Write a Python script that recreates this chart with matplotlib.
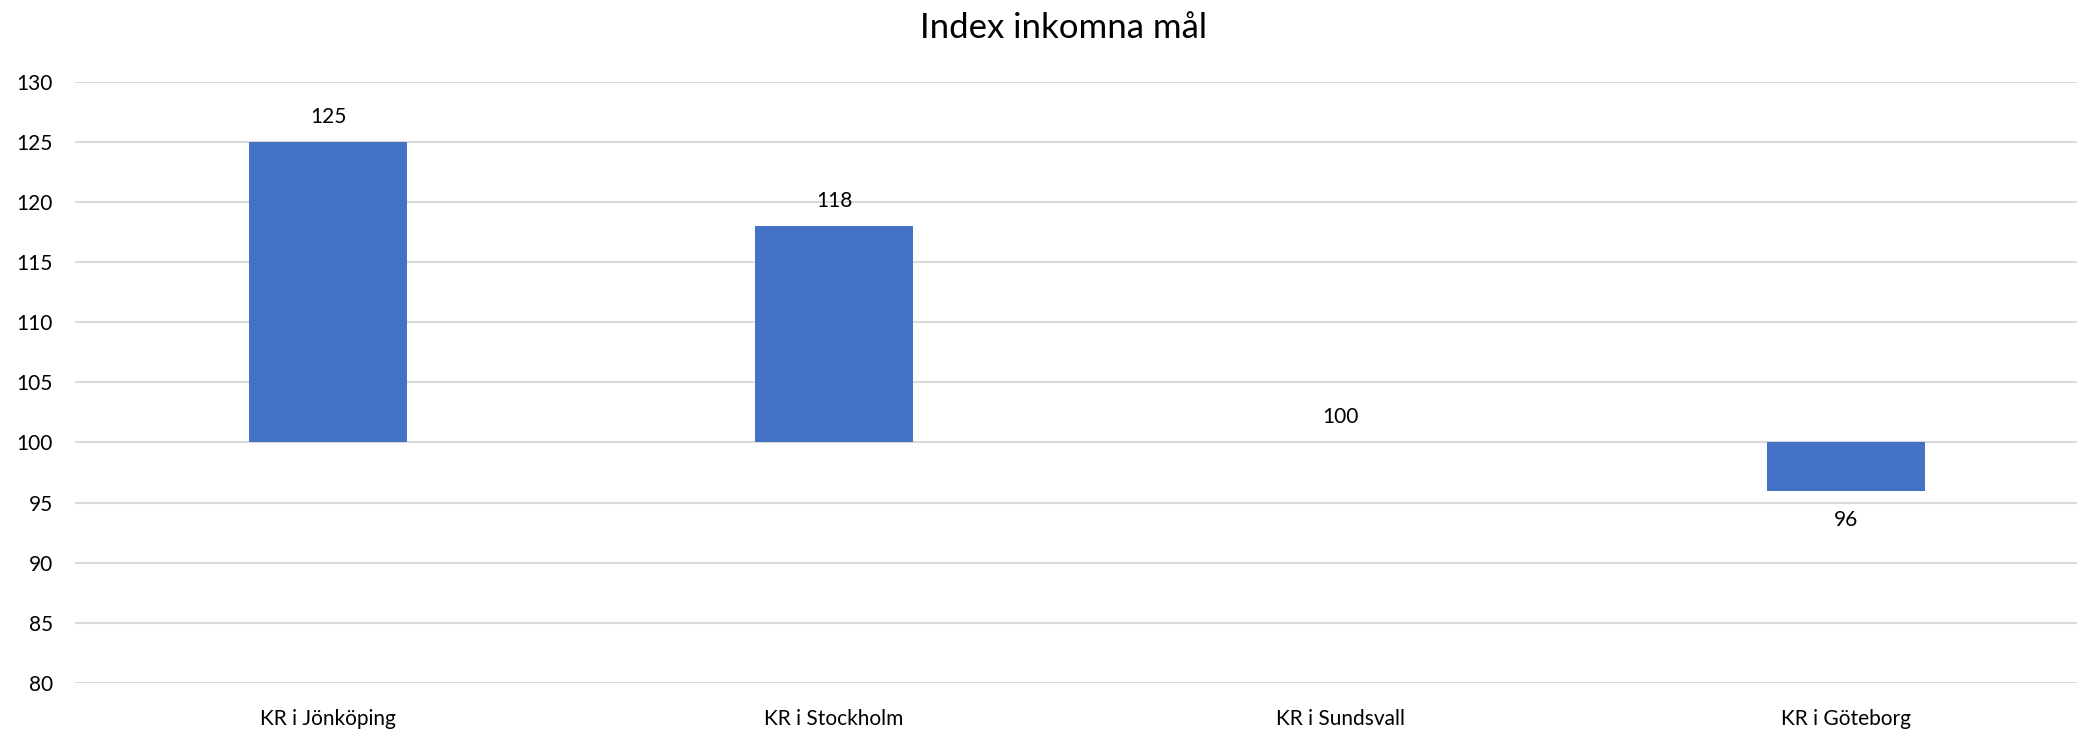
import matplotlib.pyplot as plt

# data
kategorier = ['KR i Jönköping', 'KR i Stockholm', 'KR i Sundsvall', 'KR i Göteborg']
index_varden = [125, 118, 100, 96]
bas = 100
y_ticks = [80, 85, 90, 95, 100, 105, 110, 115, 120, 125, 130]

plt.rcParams['font.family'] = ['Lato', 'DejaVu Sans']

W, H = 2077, 733
fig = plt.figure(figsize=(W / 100, H / 100), dpi=100)
# plot area: x 75..2099 px (cut at right edge), y 82..683 px from top
ax = fig.add_axes([75 / W, (H - 683) / H, 2024 / W, (683 - 81.7) / H])

x = list(range(len(kategorier)))
hojd = [v - bas for v in index_varden]
ax.bar(x, hojd, bottom=bas, width=0.314, color='#4472C4', zorder=3)

# value labels
for xi, v in zip(x, index_varden):
    if v >= bas:
        ax.annotate(str(v), (xi, v), xytext=(0, 18), textcoords='offset points',
                    ha='center', va='center', fontsize=15, color='#000000')
    else:
        ax.annotate(str(v), (xi, v), xytext=(0, -21.5), textcoords='offset points',
                    ha='center', va='center', fontsize=15, color='#000000')

ax.set_xlim(-0.5, len(kategorier) - 0.5)
ax.set_ylim(80, 130)
ax.set_yticks(y_ticks)
ax.set_xticks(x)
ax.set_xticklabels(kategorier)
ax.tick_params(axis='both', length=0, labelsize=15, colors='#000000')
ax.tick_params(axis='y', pad=16)
ax.tick_params(axis='x', pad=19)
ax.grid(axis='y', color='#d9d9d9', linewidth=1.5, zorder=0)
for s in ax.spines.values():
    s.set_visible(False)

fig.text(1064 / W, 1 - 28 / H, 'Index inkomna mål', ha='center', va='center',
         fontsize=25, color='#000000')

fig.savefig('out.png', dpi=100)
